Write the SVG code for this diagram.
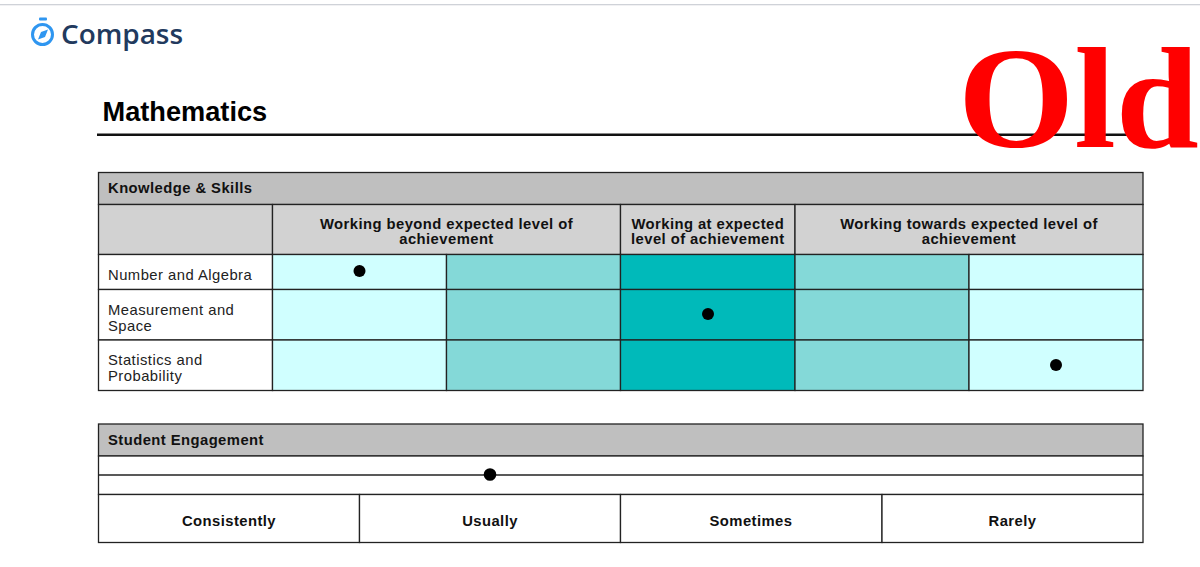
<svg xmlns="http://www.w3.org/2000/svg" width="1200" height="567" viewBox="0 0 1200 567">
<style>
text{font-family:"Liberation Sans",Arial,sans-serif;fill:#111}
.b{font-weight:bold;font-size:14.8px;letter-spacing:.44px}
.r{font-size:14.8px;letter-spacing:.47px;fill:#222}
.m{text-anchor:middle}
.c{stroke:#222;stroke-width:1.3}
.hd{fill:#bfbfbf}.sub{fill:#d2d2d2}.l{fill:#d0ffff}.n{fill:#84d9d8}.d{fill:#00baba}.w{fill:#fff}
</style>
<rect width="1200" height="567" fill="#fff"/>
<rect x="0" y="4" width="1200" height="1.3" fill="#cfd2d8"/>
<g id="logo">
<circle cx="42.500" cy="34.500" r="10" fill="none" stroke="#2f96f0" stroke-width="3"/>
<rect x="39" y="17.500" width="8" height="3" rx="1" fill="#2f96f0"/>
<path d="M48 29.500L45 37L38 39.500L41 32Z" fill="#2f96f0"/>
<text x="61" y="44" font-size="27" textLength="122" lengthAdjust="spacingAndGlyphs" style="font-family:'Open Sans','Liberation Sans',sans-serif;font-weight:600;fill:#223a5e">Compass</text>
</g>
<g id="title">
<text x="102.500" y="121" font-size="27.200" font-weight="bold" style="fill:#000">Mathematics</text>
<rect x="97" y="133.500" width="1046" height="2.500" fill="#111"/>
</g>
<g id="knowledge-table">
<rect class="hd c" x="98.500" y="172.500" width="1044.500" height="32"/>
<text class="b" x="108" y="193">Knowledge &amp; Skills</text>
<rect class="sub c" x="98.500" y="204.500" width="174" height="50"/>
<rect class="sub c" x="272.500" y="204.500" width="348" height="50"/>
<rect class="sub c" x="620.500" y="204.500" width="174.500" height="50"/>
<rect class="sub c" x="795" y="204.500" width="348" height="50"/>
<text class="b m" x="446.500" y="229">Working beyond expected level of</text>
<text class="b m" x="446.500" y="244">achievement</text>
<text class="b m" x="707.800" y="229">Working at expected</text>
<text class="b m" x="707.800" y="244">level of achievement</text>
<text class="b m" x="969" y="229">Working towards expected level of</text>
<text class="b m" x="969" y="244">achievement</text>
<g id="row-number">
<rect class="w c" x="98.500" y="254.500" width="174" height="35"/>
<rect class="l c" x="272.500" y="254.500" width="174" height="35"/>
<rect class="n c" x="446.500" y="254.500" width="174" height="35"/>
<rect class="d c" x="620.500" y="254.500" width="174.500" height="35"/>
<rect class="n c" x="795" y="254.500" width="174" height="35"/>
<rect class="l c" x="969" y="254.500" width="174" height="35"/>
<text class="r" x="108" y="279.500">Number and Algebra</text>
<circle cx="359.500" cy="271" r="6"/>
</g>
<g id="row-measurement">
<rect class="w c" x="98.500" y="289.500" width="174" height="50.500"/>
<rect class="l c" x="272.500" y="289.500" width="174" height="50.500"/>
<rect class="n c" x="446.500" y="289.500" width="174" height="50.500"/>
<rect class="d c" x="620.500" y="289.500" width="174.500" height="50.500"/>
<rect class="n c" x="795" y="289.500" width="174" height="50.500"/>
<rect class="l c" x="969" y="289.500" width="174" height="50.500"/>
<text class="r" x="108" y="314.500">Measurement and</text>
<text class="r" x="108" y="330.500">Space</text>
<circle cx="708" cy="314" r="6"/>
</g>
<g id="row-statistics">
<rect class="w c" x="98.500" y="340" width="174" height="50.500"/>
<rect class="l c" x="272.500" y="340" width="174" height="50.500"/>
<rect class="n c" x="446.500" y="340" width="174" height="50.500"/>
<rect class="d c" x="620.500" y="340" width="174.500" height="50.500"/>
<rect class="n c" x="795" y="340" width="174" height="50.500"/>
<rect class="l c" x="969" y="340" width="174" height="50.500"/>
<text class="r" x="108" y="365">Statistics and</text>
<text class="r" x="108" y="381">Probability</text>
<circle cx="1056" cy="365" r="6"/>
</g>
</g>
<g id="engagement-table">
<rect class="hd c" x="98.500" y="424" width="1044.500" height="32"/>
<text class="b" x="108" y="445">Student Engagement</text>
<rect class="w c" x="98.500" y="456" width="1044.500" height="38.500"/>
<line class="c" x1="98.500" y1="475" x2="1143" y2="475"/>
<circle cx="490" cy="474.500" r="6.300"/>
<rect class="w c" x="98.500" y="494.500" width="261" height="48"/>
<rect class="w c" x="359.500" y="494.500" width="261" height="48"/>
<rect class="w c" x="620.500" y="494.500" width="261.500" height="48"/>
<rect class="w c" x="882" y="494.500" width="261" height="48"/>
<text class="b m" x="229" y="525.500">Consistently</text>
<text class="b m" x="490" y="525.500">Usually</text>
<text class="b m" x="751" y="525.500">Sometimes</text>
<text class="b m" x="1012.500" y="525.500">Rarely</text>
</g>
<g id="stamp">
<text x="958" y="147" font-size="144" font-weight="bold" textLength="241" lengthAdjust="spacingAndGlyphs" style="font-family:'Liberation Serif',serif;fill:#ff0000">Old</text>
</g>
</svg>
